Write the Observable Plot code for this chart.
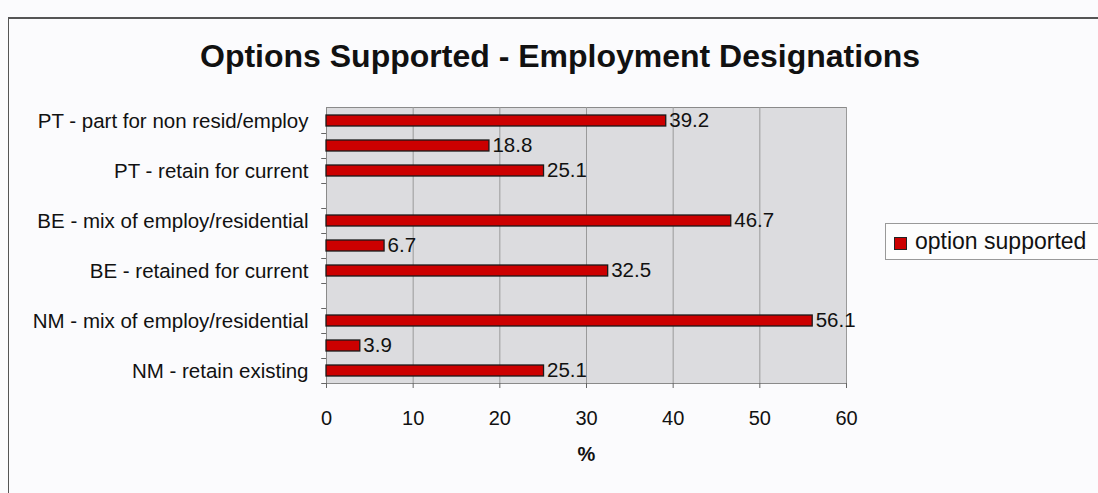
<!DOCTYPE html>
<html>
<head>
<meta charset="utf-8">
<script src="https://cdn.jsdelivr.net/npm/d3@7"></script>
<script src="https://cdn.jsdelivr.net/npm/@observablehq/plot@0.6"></script>
<style>
  html, body { margin: 0; padding: 0; background: #fbfbfd; }
  #wrap { position: relative; width: 1098px; height: 493px; overflow: hidden; font-family: "Liberation Sans", Arial, sans-serif; }
  #frame { position: absolute; left: 8px; top: 17px; width: 1100px; height: 490px; border-left: 1.5px solid #555; border-top: 2px solid #555; box-sizing: border-box; }
  #title { position: absolute; left: 0; width: 1120px; top: 38px; text-align: center; font-weight: bold; font-size: 32px; color: #111; }
  #chart { position: absolute; left: 0; top: 0; }
  #legend { position: absolute; left: 885px; top: 223px; width: 230px; height: 37px; border: 1px solid #999; background: #fdfdfd; box-sizing: border-box; font-size: 23px; color: #111; }
  #legend .sw { position: absolute; left: 8px; top: 13px; width: 13px; height: 13px; background: #cc0000; border: 1px solid #222; box-sizing: border-box; }
  #legend .lb { position: absolute; left: 29px; top: 4px; white-space: nowrap; }
</style>
</head>
<body>
<div id="wrap">
  <div id="frame"></div>
  <div id="title">Options Supported - Employment Designations</div>
  <div id="chart"></div>
  <div id="legend"><div class="sw"></div><div class="lb">option supported</div></div>
</div>
<script>
// Categories top to bottom (gap entries are the empty slots; unlabelled bars have hidden labels)
const categories = [
  "PT - part for non resid/employ",
  "PT - (unlabelled)",
  "PT - retain for current",
  "gap 1",
  "BE - mix of employ/residential",
  "BE - (unlabelled)",
  "BE - retained for current",
  "gap 2",
  "NM - mix of employ/residential",
  "NM - (unlabelled)",
  "NM - retain existing"
];
const shownLabels = [
  "PT - part for non resid/employ",
  "PT - retain for current",
  "BE - mix of employ/residential",
  "BE - retained for current",
  "NM - mix of employ/residential",
  "NM - retain existing"
];
const barCategories = [
  "PT - part for non resid/employ",
  "PT - (unlabelled)",
  "PT - retain for current",
  "BE - mix of employ/residential",
  "BE - (unlabelled)",
  "BE - retained for current",
  "NM - mix of employ/residential",
  "NM - (unlabelled)",
  "NM - retain existing"
];
const optionSupported = [39.2, 18.8, 25.1, 46.7, 6.7, 32.5, 56.1, 3.9, 25.1];
const xTicks = [0, 10, 20, 30, 40, 50, 60];
const gridTicks = [10, 20, 30, 40, 50, 60];

const data = barCategories.map((c, i) => ({category: c, value: optionSupported[i]}));

const chart = Plot.plot({
  width: 1098,
  height: 493,
  marginLeft: 326,
  marginRight: 252,
  marginTop: 107,
  marginBottom: 110,
  style: {fontFamily: "'Liberation Sans', Arial, sans-serif", background: "transparent", color: "#111"},
  x: {domain: [0, 60]},
  y: {domain: categories, paddingInner: 0.58, paddingOuter: 0.29},
  marks: [
    Plot.frame({fill: "#dcdcdf", stroke: "#8a8a8a"}),
    Plot.ruleX(gridTicks, {stroke: "#9a9a9a", strokeWidth: 1}),
    // small category-boundary ticks on the left edge
    Plot.ruleY(categories, {y: d => d, x1: -0.55, x2: 0, dy: 12.5, stroke: "#666", clip: false}),
    Plot.barX(data, {x: "value", y: "category", fill: "#cc0000", stroke: "#1a1a1a", strokeWidth: 1.3}),
    Plot.text(data, {x: "value", y: "category", text: d => d.value.toFixed(1), textAnchor: "start", dx: 3, dy: -1, fontSize: 20.5, fill: "#111"}),
    Plot.axisX({ticks: xTicks, tickSize: 5, tickPadding: 22, fontSize: 20, label: null, stroke: "#666", tickFormat: d => String(d)}),
    Plot.axisY({tickSize: 0, tickPadding: 18, fontSize: 20.5, label: null, tickFormat: d => shownLabels.includes(d) ? d : ""}),
    Plot.text(["%"], {frameAnchor: "bottom", dy: 77, fontSize: 20, fontWeight: "bold", fill: "#111"})
  ]
});
document.getElementById("chart").appendChild(chart);
</script>
</body>
</html>
